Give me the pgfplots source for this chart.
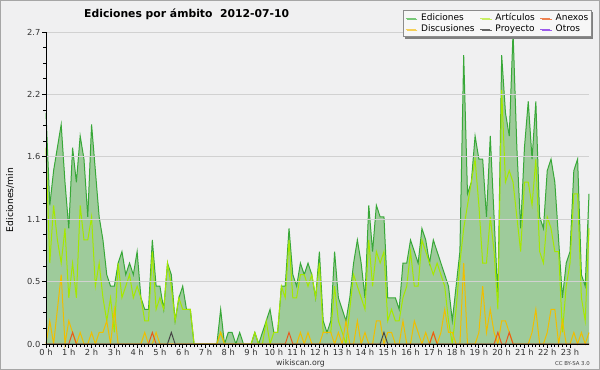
\documentclass[border=0pt]{standalone}
\usepackage{fontspec}
\setmainfont{DejaVu Sans}
\usepackage{pgfplots}
\pgfplotsset{compat=1.18}
\usepackage{pgfplotstable}
\usetikzlibrary{shadows}
\definecolor{bgc}{RGB}{240,240,241}
\definecolor{areac}{RGB}{158,203,155}
\definecolor{edc}{RGB}{56,168,56}
\definecolor{artc}{RGB}{165,232,0}
\definecolor{discc}{RGB}{240,190,0}
\definecolor{anxc}{RGB}{230,90,30}
\definecolor{proyc}{RGB}{70,70,70}
\definecolor{otrc}{RGB}{150,80,230}
\definecolor{lg-ed}{RGB}{120,200,120}
\definecolor{lg-art}{RGB}{200,238,100}
\definecolor{lg-anx}{RGB}{238,130,80}
\definecolor{lg-disc}{RGB}{245,208,90}
\definecolor{lg-proy}{RGB}{100,100,100}
\definecolor{lg-otr}{RGB}{155,90,235}
\pgfplotstableread{
i ed art disc anx proy
0 2.0 1.7 0 0 0
1 1.2 0.7 0.2 0 0
2 1.5 1.2 0 0 0
3 1.7 0.9 0.3 0 0
4 1.9 0.7 0.6 0 0
5 1.4 1.0 0 0 0
6 1.0 0.4 0.2 0 0
7 1.7 0.7 0.1 0.1 0
8 1.4 0.4 0 0 0
9 1.8 1.2 0.1 0 0
10 1.6 0.9 0 0 0
11 1.1 0.9 0 0 0
12 1.9 1.1 0.1 0 0
13 1.5 0.5 0 0 0
14 1.1 0.7 0.1 0 0
15 0.9 0.4 0.1 0 0
16 0.6 0.2 0.2 0 0
17 0.5 0.4 0 0 0
18 0.5 0.1 0.3 0 0
19 0.7 0.7 0 0 0
20 0.8 0.4 0 0 0
21 0.6 0.5 0 0 0
22 0.7 0.6 0 0 0
23 0.6 0.4 0 0 0
24 0.8 0.5 0 0 0
25 0.4 0.4 0 0 0
26 0.3 0.2 0.1 0 0
27 0.3 0.2 0 0 0
28 0.9 0.8 0 0.1 0
29 0.5 0.3 0.1 0 0
30 0.5 0.4 0 0 0
31 0.3 0.3 0 0 0
32 0.7 0.7 0 0 0
33 0.6 0.5 0 0 0.1
34 0.2 0.2 0 0 0
35 0.4 0.4 0 0 0
36 0.5 0.3 0 0 0
37 0.3 0.3 0 0 0
38 0.3 0.3 0 0 0
39 0 0 0 0 0
40 0 0 0 0 0
41 0 0 0 0 0
42 0 0 0 0 0
43 0 0 0 0 0
44 0 0 0 0 0
45 0 0 0 0 0
46 0.3 0.1 0.1 0 0
47 0 0 0 0 0
48 0.1 0 0 0 0
49 0.1 0 0 0 0
50 0 0 0 0 0
51 0.1 0 0 0 0
52 0 0 0 0 0
53 0 0 0 0 0
54 0 0 0 0 0
55 0.1 0.1 0 0 0
56 0 0 0 0 0
57 0.1 0 0 0 0
58 0.2 0.2 0 0 0
59 0.3 0 0 0 0
60 0.1 0.1 0 0 0
61 0.1 0.1 0 0 0
62 0.5 0.5 0 0 0
63 0.5 0.4 0 0 0
64 1.0 0.9 0 0.1 0
65 0.6 0.4 0 0 0
66 0.5 0.4 0 0 0
67 0.7 0.6 0.1 0 0
68 0.6 0.6 0 0 0
69 0.7 0.5 0.1 0 0
70 0.6 0.6 0 0 0
71 0.4 0.4 0 0 0
72 0.8 0.7 0 0 0
73 0.2 0.1 0.1 0 0
74 0.1 0.1 0.1 0 0
75 0.2 0.1 0.1 0 0
76 0.8 0.5 0 0 0
77 0.4 0.2 0.1 0 0
78 0.3 0.1 0 0 0
79 0.2 0 0.2 0 0
80 0.4 0.3 0 0 0
81 0.7 0.6 0 0 0
82 0.9 0.5 0.2 0 0
83 0.7 0.4 0 0 0
84 0.4 0.3 0.1 0 0
85 1.2 0.9 0 0 0
86 0.8 0.5 0 0 0
87 1.2 0.8 0.2 0 0
88 1.1 0.7 0.2 0 0
89 1.1 0.8 0 0 0.1
90 0.4 0.2 0.1 0 0
91 0.4 0.3 0.1 0 0
92 0.4 0.2 0 0 0
93 0.3 0.2 0 0 0
94 0.7 0.4 0.2 0 0
95 0.7 0.5 0 0 0
96 0.9 0.8 0 0 0
97 0.8 0.5 0.2 0 0
98 0.7 0.5 0.1 0 0
99 1.0 0.9 0 0 0
100 0.9 0.8 0.1 0 0
101 0.7 0.7 0 0 0
102 0.9 0.6 0.1 0.1 0
103 0.8 0.7 0 0 0
104 0.7 0.6 0.1 0 0
105 0.6 0.5 0.3 0 0
106 0.5 0.2 0.1 0 0
107 0.2 0 0.1 0 0
108 0.5 0.3 0 0 0
109 0.8 0.7 0 0 0
110 2.5 1.0 0.7 0 0
111 1.3 1.2 0 0 0
112 1.4 1.4 0 0 0
113 1.8 1.6 0 0 0
114 1.6 1.2 0.1 0 0
115 1.6 0.7 0.5 0 0
116 1.1 0.7 0.1 0 0
117 1.8 1.1 0.3 0 0
118 1.1 0.8 0.1 0 0
119 0.4 0.3 0 0.1 0
120 2.5 2.2 0.2 0 0
121 2.0 1.4 0.2 0 0
122 1.8 1.5 0.1 0.1 0
123 2.7 1.4 0 0 0
124 1.7 1.1 0 0 0
125 1.0 0.8 0 0 0
126 1.7 1.4 0 0 0
127 2.1 1.4 0 0 0
128 1.6 1.2 0.1 0 0
129 2.1 1.6 0.3 0 0
130 1.1 0.8 0 0 0
131 1.0 0.7 0 0 0
132 1.5 1.1 0.1 0 0
133 1.6 1.0 0.3 0 0
134 1.4 0.8 0.3 0 0
135 0.9 0.8 0 0 0
136 0.4 0.1 0.2 0 0
137 0.7 0.5 0 0 0
138 0.8 0.7 0 0 0
139 1.5 1.3 0.1 0 0
140 1.6 1.3 0 0 0
141 0.6 0.4 0.1 0 0
142 0.5 0.2 0 0 0
143 1.3 1.0 0.1 0 0
}\datatab
\begin{document}
\begin{tikzpicture}
\fill[bgc] (0bp,0bp) rectangle (600bp,370bp);
\draw[black!35, line width=1.2bp] (0.6bp,0.6bp) rectangle (599.4bp,369.4bp);
\begin{axis}[
  at={(46bp,26bp)}, anchor=south west,
  scale only axis, width=543bp, height=312bp,
  xmin=0, xmax=143, ymin=0, ymax=2.7,
  axis lines*=left,
  axis line style={black, line width=0.9bp},
  axis on top,
  clip=false,
  xtick={0,6,...,138},
  xticklabels={0 h,1 h,2 h,3 h,4 h,5 h,6 h,7 h,8 h,9 h,10 h,11 h,12 h,13 h,14 h,15 h,16 h,17 h,18 h,19 h,20 h,21 h,22 h,23 h},
  minor x tick num=5,
  ytick={0,0.54,1.08,1.62,2.16,2.7},
  yticklabels={0.0,0.5,1.1,1.6,2.2,2.7},
  minor y tick num=3,
  tick align=outside,
  major tick length=4bp,
  minor tick length=3bp,
  tick style={black, line width=0.8bp},
  ymajorgrids,
  major grid style={black!18, line width=0.9bp},
  ticklabel style={font=\fontsize{8.3bp}{9bp}\selectfont, text=black!80},
  xticklabel style={inner sep=1bp},
  yticklabel style={inner sep=1.5bp},
  legend columns=3,
  legend cell align=left,
  legend image code/.code={\draw[#1] (0bp,0bp) -- (10bp,0bp);},
  legend style={at={(axis description cs:1.0055,1.0705)}, anchor=north east,
    draw=black!45, fill=white!97!black, line width=0.6bp,
    font=\fontsize{9bp}{10bp}\selectfont, inner sep=1.5bp, row sep=-1.5bp,
    /tikz/every odd column/.append style={column sep=3bp},
    /tikz/every even column/.append style={column sep=3bp},
    drop shadow={shadow xshift=1.8bp, shadow yshift=-1.8bp, fill=black!50, opacity=1}},
]
\addplot[fill=areac, draw=none, forget plot] table[x=i,y=ed] {\datatab} \closedcycle;
\addplot[edc, line width=1bp, forget plot] table[x=i,y=ed] {\datatab};
\addplot[artc, line width=1bp, forget plot] table[x=i,y=art] {\datatab};
\addplot[discc, line width=1bp, forget plot] table[x=i,y=disc] {\datatab};
\addplot[anxc, line width=1bp, forget plot] table[x=i,y=anx] {\datatab};
\addplot[proyc, line width=1bp, forget plot] table[x=i,y=proy] {\datatab};
\addlegendimage{lg-ed, line width=1bp}
\addlegendentry{Ediciones}
\addlegendimage{lg-art, line width=1bp}
\addlegendentry{Artículos}
\addlegendimage{lg-anx, line width=1bp}
\addlegendentry{Anexos}
\addlegendimage{lg-disc, line width=1bp}
\addlegendentry{Discusiones}
\addlegendimage{lg-proy, line width=1bp}
\addlegendentry{Proyecto}
\addlegendimage{lg-otr, line width=1bp}
\addlegendentry{Otros}
\end{axis}
\node[anchor=base west, inner sep=0pt, font=\bfseries\fontsize{10.8bp}{12bp}\selectfont] at (84bp,352bp) {Ediciones por ámbito\ \ 2012-07-10};
\node[rotate=90, inner sep=0pt, font=\fontsize{9.2bp}{10bp}\selectfont] at (10bp,170bp) {Ediciones/min};
\node[anchor=base, inner sep=0pt, font=\fontsize{7.8bp}{9bp}\selectfont, text=black!80] at (300.5bp,4.5bp) {wikiscan.org};
\node[anchor=base east, inner sep=0pt, font=\fontsize{5.4bp}{6bp}\selectfont, text=black!75] at (590bp,5bp) {CC BY-SA 3.0};
\pgfresetboundingbox
\path[use as bounding box] (0bp,0bp) rectangle (600bp,370bp);
\end{tikzpicture}
\end{document}
